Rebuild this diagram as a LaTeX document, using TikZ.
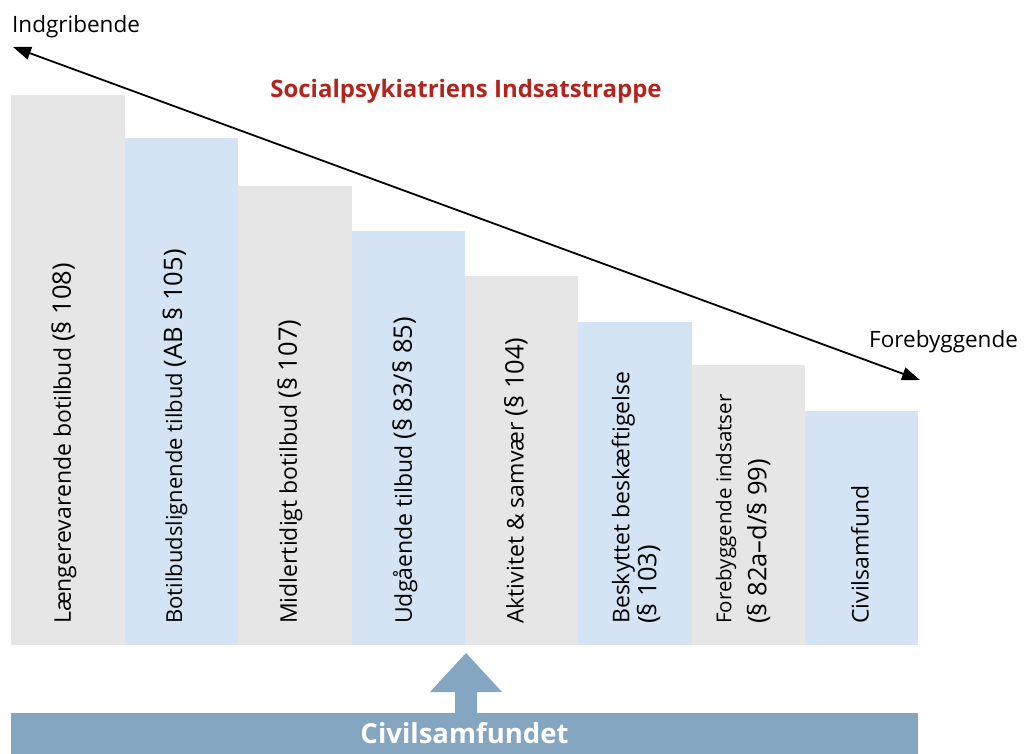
\documentclass[tikz,border=0pt]{standalone}
\usepackage{fontspec}
\setmainfont{Open Sans}
\usetikzlibrary{arrows.meta}

\definecolor{stepgray}{RGB}{230,230,230}
\definecolor{stepblue}{RGB}{213,228,245}
\definecolor{bandblue}{RGB}{133,166,193}
\definecolor{titlered}{RGB}{176,38,30}

% paragraph references are set a bit larger than the words
\newcommand{\lov}[1]{{\fontsize{25.5}{27}\selectfont #1}}

\tikzset{
  steplabel/.style={rotate=90, anchor=west, inner sep=0pt, align=left,
    font=\fontsize{23}{27}\selectfont},
  smalllabel/.style={steplabel, font=\fontsize{20.5}{35}\selectfont},
  endlabel/.style={inner sep=0pt, font=\fontsize{22.5}{27}\selectfont},
}

\begin{document}
\begin{tikzpicture}[x=1pt,y=-1pt]
  \useasboundingbox (0,0) rectangle (1026,754);

  % the eight steps, highest on the left
  \fill[stepgray] (11,95)  rectangle (125,645);
  \fill[stepblue] (125,138) rectangle (238,645);
  \fill[stepgray] (238,186) rectangle (352,645);
  \fill[stepblue] (352,231) rectangle (465,645);
  \fill[stepgray] (465,276) rectangle (578,645);
  \fill[stepblue] (578,322) rectangle (692,645);
  \fill[stepgray] (692,365) rectangle (805,645);
  \fill[stepblue] (805,411) rectangle (918,645);

  % labels on the steps
  \node[steplabel] (s1) at (64,624) {Længerevarende botilbud \lov{(§ 108)}};
  \node[steplabel, font=\fontsize{22}{27}\selectfont] (s2) at (175,624)
    {Botilbudslignende tilbud \lov{(AB § 105)}};
  \node[steplabel] (s3) at (290,624) {Midlertidigt botilbud \lov{(§ 107)}};
  \node[steplabel] (s4) at (405,624) {Udgående tilbud \lov{(§ 83/§ 85)}};
  \node[steplabel] (s5) at (516,624) {Aktivitet \& samvær \lov{(§ 104)}};
  \node[steplabel] (s6) at (636,624) {Beskyttet beskæftigelse\\\lov{(§ 103)}};
  \node[smalllabel] (s7) at (743,624) {Forebyggende indsatser\\\lov{(§ 82a--d/§ 99)}};
  \node[steplabel] (s8) at (860,624) {Civilsamfund};

  % title
  \node[inner sep=0pt, text=titlered, font=\bfseries\fontsize{24}{28}\selectfont]
    (title) at (466,91) {Socialpsykiatriens Indsatstrappe};

  % the double arrow across the top
  \node[endlabel, anchor=base west] (hard) at (12,33) {Indgribende};
  \node[endlabel, anchor=base west] (soft) at (869,347) {Forebyggende};
  \coordinate (hardend) at (13,47);
  \coordinate (softend) at (920,380);
  \draw[line width=1.8pt, {Triangle[length=18pt,width=13pt]}-{Triangle[length=18pt,width=13pt]}]
    (hardend) -- (softend);

  % civil society band and the arrow pushing up
  \node[fill=bandblue, inner sep=0pt, minimum width=907pt, minimum height=41pt,
    text=white, font=\bfseries\fontsize{27.5}{32}\selectfont]
    (band) at (464.5,733.5) {Civilsamfundet};
  \fill[bandblue] (466,653) -- (502,692) -- (477,692) -- (477,713)
    -- (455,713) -- (455,692) -- (430,692) -- cycle;
\end{tikzpicture}
\end{document}
